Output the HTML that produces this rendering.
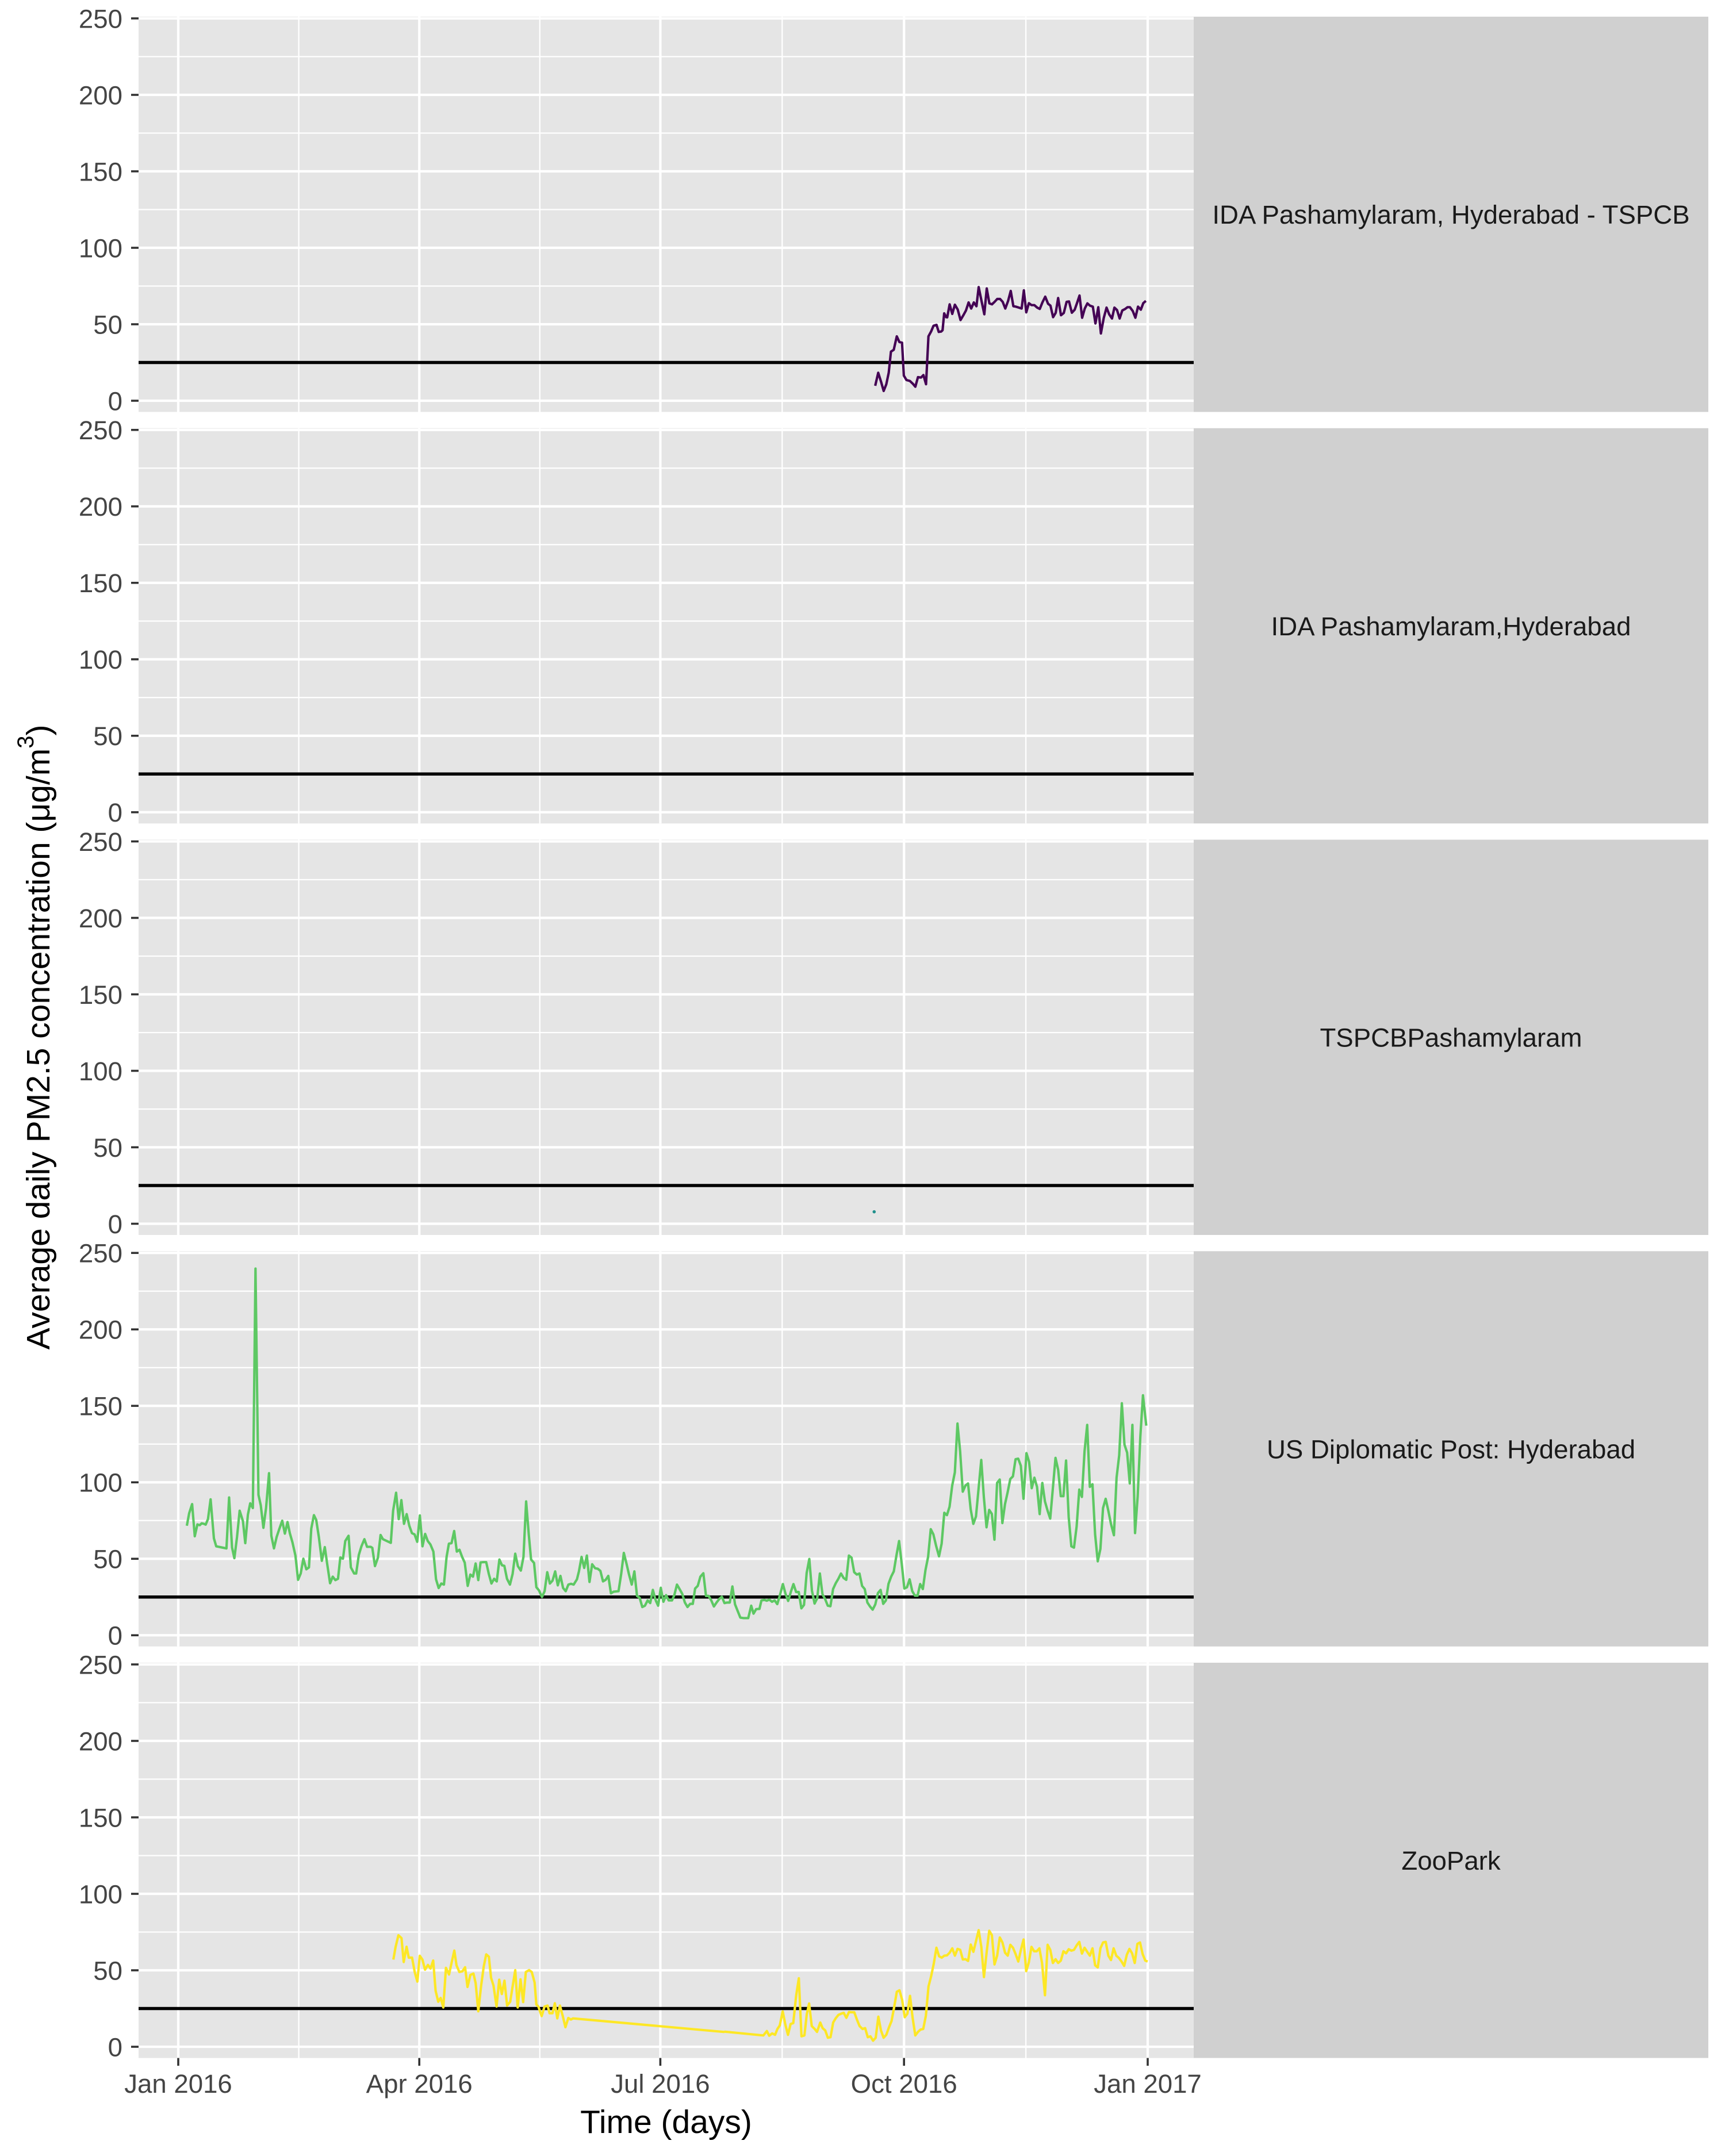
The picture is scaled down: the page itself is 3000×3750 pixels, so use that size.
<!DOCTYPE html>
<html>
<head>
<meta charset="utf-8">
<style>
html,body{margin:0;padding:0;background:#ffffff;}
svg{display:block;}
text{font-family:"Liberation Sans",Arial,sans-serif;}
</style>
</head>
<body>
<svg xmlns="http://www.w3.org/2000/svg" width="3000" height="3750" viewBox="0 0 3000 3750">
<rect x="0" y="0" width="3000" height="3750" fill="#ffffff"/>

<!-- ========== PANEL 1 ========== -->
<g transform="translate(0,29)">
  <rect x="241" y="0" width="1835" height="687.5" fill="#E5E5E5"/>
  <g stroke="#ffffff" stroke-width="2.3">
    <line x1="241" x2="2076" y1="69.5" y2="69.5"/><line x1="241" x2="2076" y1="202.5" y2="202.5"/><line x1="241" x2="2076" y1="335.5" y2="335.5"/><line x1="241" x2="2076" y1="468.5" y2="468.5"/><line x1="241" x2="2076" y1="601.5" y2="601.5"/>
    <line x1="519.6" x2="519.6" y1="0" y2="687.5"/><line x1="938.8" x2="938.8" y1="0" y2="687.5"/><line x1="1360.3" x2="1360.3" y1="0" y2="687.5"/><line x1="1784.1" x2="1784.1" y1="0" y2="687.5"/>
  </g>
  <g stroke="#ffffff" stroke-width="4.2">
    <line x1="241" x2="2076" y1="3" y2="3"/><line x1="241" x2="2076" y1="136" y2="136"/><line x1="241" x2="2076" y1="269" y2="269"/><line x1="241" x2="2076" y1="402" y2="402"/><line x1="241" x2="2076" y1="535" y2="535"/><line x1="241" x2="2076" y1="668" y2="668"/>
    <line x1="310" x2="310" y1="0" y2="687.5"/><line x1="729.2" x2="729.2" y1="0" y2="687.5"/><line x1="1148.4" x2="1148.4" y1="0" y2="687.5"/><line x1="1572.2" x2="1572.2" y1="0" y2="687.5"/><line x1="1996" x2="1996" y1="0" y2="687.5"/>
  </g>
  <line x1="241" x2="2076" y1="601.5" y2="601.5" stroke="#000000" stroke-width="5.5"/>
  <rect x="2076" y="0" width="895" height="687.5" fill="#D0D0D0"/>
  <text x="2523.5" y="360" font-size="45.6" fill="#1A1A1A" text-anchor="middle">IDA Pashamylaram, Hyderabad - TSPCB</text>
  <g stroke="#333333" stroke-width="3.6">
    <line x1="228" x2="241" y1="3" y2="3"/><line x1="228" x2="241" y1="136" y2="136"/><line x1="228" x2="241" y1="269" y2="269"/><line x1="228" x2="241" y1="402" y2="402"/><line x1="228" x2="241" y1="535" y2="535"/><line x1="228" x2="241" y1="668" y2="668"/>
  </g>
  <g font-size="45.6" fill="#444444" text-anchor="end">
    <text x="213" y="19.3">250</text><text x="213" y="152.3">200</text><text x="213" y="285.3">150</text><text x="213" y="418.3">100</text><text x="213" y="551.3">50</text><text x="213" y="684.3">0</text>
  </g>
</g>

<!-- ========== PANEL 2 ========== -->
<g transform="translate(0,744.75)">
  <rect x="241" y="0" width="1835" height="687.5" fill="#E5E5E5"/>
  <g stroke="#ffffff" stroke-width="2.3">
    <line x1="241" x2="2076" y1="69.5" y2="69.5"/><line x1="241" x2="2076" y1="202.5" y2="202.5"/><line x1="241" x2="2076" y1="335.5" y2="335.5"/><line x1="241" x2="2076" y1="468.5" y2="468.5"/><line x1="241" x2="2076" y1="601.5" y2="601.5"/>
    <line x1="519.6" x2="519.6" y1="0" y2="687.5"/><line x1="938.8" x2="938.8" y1="0" y2="687.5"/><line x1="1360.3" x2="1360.3" y1="0" y2="687.5"/><line x1="1784.1" x2="1784.1" y1="0" y2="687.5"/>
  </g>
  <g stroke="#ffffff" stroke-width="4.2">
    <line x1="241" x2="2076" y1="3" y2="3"/><line x1="241" x2="2076" y1="136" y2="136"/><line x1="241" x2="2076" y1="269" y2="269"/><line x1="241" x2="2076" y1="402" y2="402"/><line x1="241" x2="2076" y1="535" y2="535"/><line x1="241" x2="2076" y1="668" y2="668"/>
    <line x1="310" x2="310" y1="0" y2="687.5"/><line x1="729.2" x2="729.2" y1="0" y2="687.5"/><line x1="1148.4" x2="1148.4" y1="0" y2="687.5"/><line x1="1572.2" x2="1572.2" y1="0" y2="687.5"/><line x1="1996" x2="1996" y1="0" y2="687.5"/>
  </g>
  <line x1="241" x2="2076" y1="601.5" y2="601.5" stroke="#000000" stroke-width="5.5"/>
  <rect x="2076" y="0" width="895" height="687.5" fill="#D0D0D0"/>
  <text x="2523.5" y="360" font-size="45.6" fill="#1A1A1A" text-anchor="middle">IDA Pashamylaram,Hyderabad</text>
  <g stroke="#333333" stroke-width="3.6">
    <line x1="228" x2="241" y1="3" y2="3"/><line x1="228" x2="241" y1="136" y2="136"/><line x1="228" x2="241" y1="269" y2="269"/><line x1="228" x2="241" y1="402" y2="402"/><line x1="228" x2="241" y1="535" y2="535"/><line x1="228" x2="241" y1="668" y2="668"/>
  </g>
  <g font-size="45.6" fill="#444444" text-anchor="end">
    <text x="213" y="19.3">250</text><text x="213" y="152.3">200</text><text x="213" y="285.3">150</text><text x="213" y="418.3">100</text><text x="213" y="551.3">50</text><text x="213" y="684.3">0</text>
  </g>
</g>

<!-- ========== PANEL 3 ========== -->
<g transform="translate(0,1460.5)">
  <rect x="241" y="0" width="1835" height="687.5" fill="#E5E5E5"/>
  <g stroke="#ffffff" stroke-width="2.3">
    <line x1="241" x2="2076" y1="69.5" y2="69.5"/><line x1="241" x2="2076" y1="202.5" y2="202.5"/><line x1="241" x2="2076" y1="335.5" y2="335.5"/><line x1="241" x2="2076" y1="468.5" y2="468.5"/><line x1="241" x2="2076" y1="601.5" y2="601.5"/>
    <line x1="519.6" x2="519.6" y1="0" y2="687.5"/><line x1="938.8" x2="938.8" y1="0" y2="687.5"/><line x1="1360.3" x2="1360.3" y1="0" y2="687.5"/><line x1="1784.1" x2="1784.1" y1="0" y2="687.5"/>
  </g>
  <g stroke="#ffffff" stroke-width="4.2">
    <line x1="241" x2="2076" y1="3" y2="3"/><line x1="241" x2="2076" y1="136" y2="136"/><line x1="241" x2="2076" y1="269" y2="269"/><line x1="241" x2="2076" y1="402" y2="402"/><line x1="241" x2="2076" y1="535" y2="535"/><line x1="241" x2="2076" y1="668" y2="668"/>
    <line x1="310" x2="310" y1="0" y2="687.5"/><line x1="729.2" x2="729.2" y1="0" y2="687.5"/><line x1="1148.4" x2="1148.4" y1="0" y2="687.5"/><line x1="1572.2" x2="1572.2" y1="0" y2="687.5"/><line x1="1996" x2="1996" y1="0" y2="687.5"/>
  </g>
  <line x1="241" x2="2076" y1="601.5" y2="601.5" stroke="#000000" stroke-width="5.5"/>
  <rect x="2076" y="0" width="895" height="687.5" fill="#D0D0D0"/>
  <text x="2523.5" y="360" font-size="45.6" fill="#1A1A1A" text-anchor="middle">TSPCBPashamylaram</text>
  <g stroke="#333333" stroke-width="3.6">
    <line x1="228" x2="241" y1="3" y2="3"/><line x1="228" x2="241" y1="136" y2="136"/><line x1="228" x2="241" y1="269" y2="269"/><line x1="228" x2="241" y1="402" y2="402"/><line x1="228" x2="241" y1="535" y2="535"/><line x1="228" x2="241" y1="668" y2="668"/>
  </g>
  <g font-size="45.6" fill="#444444" text-anchor="end">
    <text x="213" y="19.3">250</text><text x="213" y="152.3">200</text><text x="213" y="285.3">150</text><text x="213" y="418.3">100</text><text x="213" y="551.3">50</text><text x="213" y="684.3">0</text>
  </g>
</g>

<!-- ========== PANEL 4 ========== -->
<g transform="translate(0,2176.25)">
  <rect x="241" y="0" width="1835" height="687.5" fill="#E5E5E5"/>
  <g stroke="#ffffff" stroke-width="2.3">
    <line x1="241" x2="2076" y1="69.5" y2="69.5"/><line x1="241" x2="2076" y1="202.5" y2="202.5"/><line x1="241" x2="2076" y1="335.5" y2="335.5"/><line x1="241" x2="2076" y1="468.5" y2="468.5"/><line x1="241" x2="2076" y1="601.5" y2="601.5"/>
    <line x1="519.6" x2="519.6" y1="0" y2="687.5"/><line x1="938.8" x2="938.8" y1="0" y2="687.5"/><line x1="1360.3" x2="1360.3" y1="0" y2="687.5"/><line x1="1784.1" x2="1784.1" y1="0" y2="687.5"/>
  </g>
  <g stroke="#ffffff" stroke-width="4.2">
    <line x1="241" x2="2076" y1="3" y2="3"/><line x1="241" x2="2076" y1="136" y2="136"/><line x1="241" x2="2076" y1="269" y2="269"/><line x1="241" x2="2076" y1="402" y2="402"/><line x1="241" x2="2076" y1="535" y2="535"/><line x1="241" x2="2076" y1="668" y2="668"/>
    <line x1="310" x2="310" y1="0" y2="687.5"/><line x1="729.2" x2="729.2" y1="0" y2="687.5"/><line x1="1148.4" x2="1148.4" y1="0" y2="687.5"/><line x1="1572.2" x2="1572.2" y1="0" y2="687.5"/><line x1="1996" x2="1996" y1="0" y2="687.5"/>
  </g>
  <line x1="241" x2="2076" y1="601.5" y2="601.5" stroke="#000000" stroke-width="5.5"/>
  <rect x="2076" y="0" width="895" height="687.5" fill="#D0D0D0"/>
  <text x="2523.5" y="360" font-size="45.6" fill="#1A1A1A" text-anchor="middle">US Diplomatic Post: Hyderabad</text>
  <g stroke="#333333" stroke-width="3.6">
    <line x1="228" x2="241" y1="3" y2="3"/><line x1="228" x2="241" y1="136" y2="136"/><line x1="228" x2="241" y1="269" y2="269"/><line x1="228" x2="241" y1="402" y2="402"/><line x1="228" x2="241" y1="535" y2="535"/><line x1="228" x2="241" y1="668" y2="668"/>
  </g>
  <g font-size="45.6" fill="#444444" text-anchor="end">
    <text x="213" y="19.3">250</text><text x="213" y="152.3">200</text><text x="213" y="285.3">150</text><text x="213" y="418.3">100</text><text x="213" y="551.3">50</text><text x="213" y="684.3">0</text>
  </g>
</g>

<!-- ========== PANEL 5 ========== -->
<g transform="translate(0,2892)">
  <rect x="241" y="0" width="1835" height="687.5" fill="#E5E5E5"/>
  <g stroke="#ffffff" stroke-width="2.3">
    <line x1="241" x2="2076" y1="69.5" y2="69.5"/><line x1="241" x2="2076" y1="202.5" y2="202.5"/><line x1="241" x2="2076" y1="335.5" y2="335.5"/><line x1="241" x2="2076" y1="468.5" y2="468.5"/><line x1="241" x2="2076" y1="601.5" y2="601.5"/>
    <line x1="519.6" x2="519.6" y1="0" y2="687.5"/><line x1="938.8" x2="938.8" y1="0" y2="687.5"/><line x1="1360.3" x2="1360.3" y1="0" y2="687.5"/><line x1="1784.1" x2="1784.1" y1="0" y2="687.5"/>
  </g>
  <g stroke="#ffffff" stroke-width="4.2">
    <line x1="241" x2="2076" y1="3" y2="3"/><line x1="241" x2="2076" y1="136" y2="136"/><line x1="241" x2="2076" y1="269" y2="269"/><line x1="241" x2="2076" y1="402" y2="402"/><line x1="241" x2="2076" y1="535" y2="535"/><line x1="241" x2="2076" y1="668" y2="668"/>
    <line x1="310" x2="310" y1="0" y2="687.5"/><line x1="729.2" x2="729.2" y1="0" y2="687.5"/><line x1="1148.4" x2="1148.4" y1="0" y2="687.5"/><line x1="1572.2" x2="1572.2" y1="0" y2="687.5"/><line x1="1996" x2="1996" y1="0" y2="687.5"/>
  </g>
  <line x1="241" x2="2076" y1="601.5" y2="601.5" stroke="#000000" stroke-width="5.5"/>
  <rect x="2076" y="0" width="895" height="687.5" fill="#D0D0D0"/>
  <text x="2523.5" y="360" font-size="45.6" fill="#1A1A1A" text-anchor="middle">ZooPark</text>
  <g stroke="#333333" stroke-width="3.6">
    <line x1="228" x2="241" y1="3" y2="3"/><line x1="228" x2="241" y1="136" y2="136"/><line x1="228" x2="241" y1="269" y2="269"/><line x1="228" x2="241" y1="402" y2="402"/><line x1="228" x2="241" y1="535" y2="535"/><line x1="228" x2="241" y1="668" y2="668"/>
  </g>
  <g font-size="45.6" fill="#444444" text-anchor="end">
    <text x="213" y="19.3">250</text><text x="213" y="152.3">200</text><text x="213" y="285.3">150</text><text x="213" y="418.3">100</text><text x="213" y="551.3">50</text><text x="213" y="684.3">0</text>
  </g>
</g>

<!-- ========== DATA SERIES ========== -->
<!-- Panel 1: purple -->
<g transform="translate(1500,440) scale(0.35077,0.33333)">
  <polyline fill="none" stroke="#440154" stroke-width="4.2" stroke-linejoin="round" stroke-linecap="butt" vector-effect="non-scaling-stroke"
   points="63,693 78,625 92,672 105,720 118,685 130,625 141,515 155,505 170,435 183,465 196,468 205,640 218,663 235,668 250,683 262,698 275,648 290,650 302,637 315,685 327,435 340,410 352,380 367,375 378,412 390,410 397,403 405,315 415,335 420,336 432,268 445,318 458,270 472,295 486,350 500,325 513,300 526,258 539,290 552,258 565,278 576,178 590,250 604,320 616,185 629,263 642,268 655,255 668,240 682,240 695,255 708,290 722,250 735,198 748,278 760,280 775,285 789,290 800,195 812,310 825,262 838,272 852,272 866,285 879,292 892,258 906,228 920,265 932,275 945,335 958,312 970,235 984,325 998,313 1012,255 1024,253 1038,312 1052,296 1064,260 1076,222 1089,338 1102,290 1115,263 1128,275 1142,280 1155,368 1169,283 1182,420 1196,340 1210,285 1223,320 1237,342 1249,285 1262,298 1275,342 1288,300 1301,293 1314,283 1326,283 1340,303 1353,338 1366,280 1380,296 1392,262 1405,250"/>
</g>

<!-- Panel 3: single point -->
<circle cx="1520.3" cy="2107.7" r="2.8" fill="#21908C"/>

<!-- Panel 4: green -->
<g transform="translate(240,2150) scale(0.57398,0.45918)">
  <polyline fill="none" stroke="#5DC863" stroke-width="4.2" stroke-linejoin="round" vector-effect="non-scaling-stroke"
   points="148,1097 155,1050 164,1015 172,1137 180,1092 187,1095 193,1088 200,1090 205,1093 212,1072 220,997 230,1145 237,1175 268,1183 276,990 285,1180 292,1220 300,1140 308,1040 318,1080 325,1163 333,1055 340,1012 348,1030 356,123 365,980 372,1020 380,1105 388,1030 397,898 404,1135 412,1183 420,1140 428,1110 437,1078 445,1127 453,1083 460,1125 468,1160 477,1210 485,1302 493,1278 501,1222 510,1262 518,1255 525,1108 533,1057 540,1075 548,1140 557,1230 566,1178 573,1240 582,1315 590,1290 598,1303 606,1298 613,1217 621,1222 628,1155 638,1135 645,1255 655,1278 661,1278 669,1208 677,1175 686,1148 694,1177 705,1177 710,1181 718,1250 727,1218 735,1132 742,1148 766,1162 773,1040 782,972 790,1072 798,1000 806,1090 814,1053 822,1097 830,1125 838,1130 846,1158 854,1058 862,1175 870,1128 878,1155 886,1168 895,1195 903,1300 911,1333 919,1316 927,1320 935,1215 942,1165 950,1163 958,1117 966,1195 974,1188 982,1215 990,1237 999,1325 1007,1282 1015,1290 1023,1240 1031,1303 1038,1236 1046,1235 1055,1235 1063,1280 1071,1316 1079,1298 1087,1308 1095,1225 1103,1247 1110,1249 1118,1298 1127,1320 1135,1280 1143,1203 1151,1250 1160,1267 1168,1215 1176,1005 1184,1130 1191,1225 1200,1238 1207,1330 1215,1342 1224,1367 1232,1345 1240,1273 1248,1316 1256,1305 1264,1270 1272,1323 1280,1287 1288,1333 1296,1345 1304,1320 1312,1317 1320,1320 1330,1300 1336,1270 1344,1215 1352,1257 1360,1210 1368,1310 1376,1243 1385,1258 1393,1260 1401,1268 1409,1308 1417,1302 1425,1287 1433,1353 1441,1347 1456,1345 1464,1280 1472,1200 1480,1240 1488,1283 1496,1320 1504,1270 1512,1363 1520,1370 1528,1405 1536,1400 1544,1380 1552,1390 1560,1340 1568,1378"/>
</g>
<g transform="translate(1140,2150) scale(0.57398,0.45918)">
  <polyline fill="none" stroke="#5DC863" stroke-width="4.2" stroke-linejoin="round" vector-effect="non-scaling-stroke"
   points="0,1378 8,1400 16,1332 24,1385 32,1360 40,1380 50,1380 57,1360 65,1320 73,1337 81,1355 89,1388 97,1405 105,1393 113,1393 120,1335 128,1325 136,1290 145,1277 153,1363 161,1363 169,1380 177,1403 185,1388 193,1375 201,1366 209,1390 217,1388 225,1388 233,1327 241,1395 249,1420 257,1445 267,1447 281,1447 290,1400 297,1430 305,1413 315,1412 321,1380 330,1378 337,1381 345,1377 353,1385 361,1380 369,1394 377,1360 386,1318 394,1355 402,1382 410,1348 418,1318 426,1348 434,1348 442,1410 450,1397 458,1276 466,1223 474,1343 482,1392 490,1372 498,1278 506,1357 514,1375 522,1400 530,1402 538,1337 546,1315 554,1298 562,1278 570,1295 578,1302 586,1210 594,1218 602,1273 610,1282 618,1278 626,1325 634,1337 642,1388 650,1403 658,1415 666,1395 674,1352 682,1340 690,1393 698,1380 706,1317 714,1290 722,1270 730,1210 738,1155 746,1240 754,1335 762,1330 770,1300 778,1345 786,1362 794,1362 802,1318 810,1337 818,1265 826,1215 834,1110 842,1130 850,1172 859,1213 867,1165 875,1048 883,1057 891,1025 899,945 907,895 915,710 923,815 931,968 939,945 947,937 955,1035 963,1090 971,1062 979,955 987,848 995,990 1003,1103 1011,1037 1019,1052 1027,1150 1035,935 1043,922 1051,1087 1059,1015 1067,970 1075,920 1083,910 1091,845 1099,843 1107,870 1115,995 1124,822 1132,855 1140,955 1148,915 1156,950 1164,1053 1172,935 1180,1005 1188,1040 1196,1070 1204,955 1212,840 1220,885 1228,985 1236,985 1244,850 1252,1065 1260,1175 1268,1180 1276,1100 1284,960 1292,988 1300,815 1308,715 1316,950 1324,940 1332,1130 1340,1232 1348,1185 1356,1030 1364,995 1372,1040 1380,1090 1389,1133 1397,915 1405,830 1413,633 1421,790 1429,820 1437,937 1445,715 1453,1125 1461,985 1469,760 1477,603 1487,718"/>
</g>

<!-- Panel 5: yellow -->
<g transform="translate(660,3320) scale(0.38265,0.33333)">
  <polyline fill="none" stroke="#FDE725" stroke-width="4.2" stroke-linejoin="round" vector-effect="non-scaling-stroke"
   points="63,265 73,200 86,138 100,153 110,278 123,198 133,255 148,255 160,330 172,380 183,245 195,265 207,318 220,293 232,312 244,270 255,428 267,485 278,465 290,515 302,308 316,343 328,280 340,218 350,295 363,330 377,326 389,305 400,408 413,345 427,338 437,388 449,535 462,400 474,300 485,238 497,250 507,360 518,400 532,510 544,370 556,445 568,375 580,505 594,485 605,405 617,320 628,515 641,368 653,487 665,330 680,320 692,330 705,385 713,500 722,510 737,560 750,510 764,505 773,545 786,545 797,493 808,572 820,505 833,560 845,618 858,570 870,578 880,572 1568,643"/>
</g>
<g transform="translate(1200,2950) scale(0.5102,0.5102)">
  <polyline fill="none" stroke="#FDE725" stroke-width="4.2" stroke-linejoin="round" vector-effect="non-scaling-stroke"
   points="117,1144 250,1157 262,1142 270,1158 280,1150 290,1155 298,1135 306,1123 316,1075 325,1120 334,1155 343,1118 352,1115 362,1020 371,962 380,1160 390,1157 398,1085 406,1048 415,1125 425,1135 433,1145 444,1113 452,1132 461,1140 470,1165 479,1163 488,1113 497,1098 506,1087 515,1083 524,1080 533,1097 542,1077 551,1078 560,1078 569,1103 578,1125 588,1135 597,1132 606,1163 615,1160 624,1175 633,1165 642,1093 651,1140 660,1165 669,1155 678,1130 687,1108 696,1060 705,1008 714,1003 723,1035 732,1095 741,1083 750,1022 759,1098 768,1157 777,1145 786,1137 795,1135 804,1090 813,990 822,955 831,912 840,858 849,887 858,892 867,885 876,884 885,875 894,860 903,885 912,862 921,865 930,898 939,897 948,903 957,847 966,872 975,835 984,798 993,855 1002,958 1011,875 1020,800 1029,815 1038,915 1047,885 1056,823 1065,840 1074,875 1083,885 1092,848 1101,858 1110,880 1119,905 1128,865 1137,830 1146,938 1155,908 1164,855 1173,870 1182,870 1191,860 1200,910 1210,1020 1219,848 1228,865 1237,910 1246,897 1255,910 1264,902 1273,870 1282,877 1291,863 1300,868 1309,865 1318,850 1327,838 1336,878 1345,858 1354,872 1363,885 1372,860 1381,918 1390,925 1399,860 1408,840 1417,838 1426,885 1435,900 1444,860 1453,885 1462,893 1471,905 1480,920 1489,882 1498,862 1507,877 1516,910 1525,845 1534,840 1543,880 1552,902 1560,905"/>
</g>

<!-- ========== X AXIS (bottom) ========== -->
<g stroke="#333333" stroke-width="3.6">
  <line x1="310" x2="310" y1="3579.5" y2="3593"/>
  <line x1="729.2" x2="729.2" y1="3579.5" y2="3593"/>
  <line x1="1148.4" x2="1148.4" y1="3579.5" y2="3593"/>
  <line x1="1572.2" x2="1572.2" y1="3579.5" y2="3593"/>
  <line x1="1996" x2="1996" y1="3579.5" y2="3593"/>
</g>
<g font-size="45.6" fill="#444444" text-anchor="middle">
  <text x="310" y="3640">Jan 2016</text>
  <text x="729.2" y="3640">Apr 2016</text>
  <text x="1148.4" y="3640">Jul 2016</text>
  <text x="1572.2" y="3640">Oct 2016</text>
  <text x="1996" y="3640">Jan 2017</text>
</g>

<!-- Axis titles -->
<text x="1158.5" y="3710" font-size="57" fill="#000000" text-anchor="middle">Time (days)</text>
<text transform="translate(86,1804) rotate(-90)" font-size="57" fill="#000000" text-anchor="middle">Average daily PM2.5 concentration (μg/m<tspan font-size="40" dy="-28">3</tspan><tspan dy="28">)</tspan></text>

</svg>
</body>
</html>
